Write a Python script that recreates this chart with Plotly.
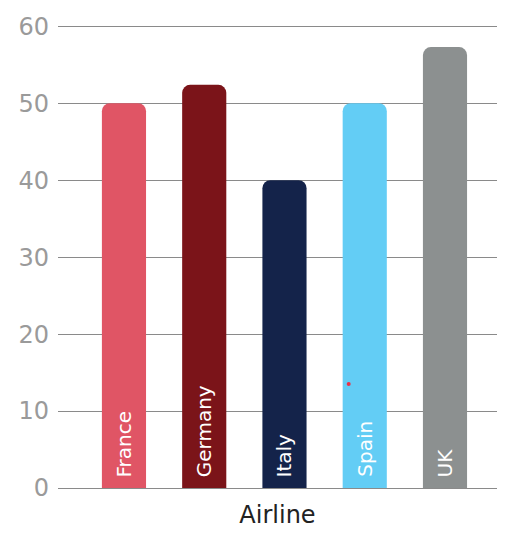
import plotly.graph_objects as go

# Share of respondents by airline country
airlines = ["France", "Germany", "Italy", "Spain", "UK"]
values = [50, 52.4, 40, 50, 57.3]
colors = ["#E05565", "#7B1419", "#14234A", "#63CDF5", "#8C9090"]
y_ticks = [0, 10, 20, 30, 40, 50, 60]

# stray marker point
dot_x = [2.8]
dot_y = [13.5]

positions = list(range(len(airlines)))
FONT = "DejaVu Sans"

fig = go.Figure()
fig.add_trace(go.Bar(
    x=positions,
    y=values,
    width=0.55,
    marker=dict(color=colors, cornerradius=8, line=dict(width=0)),
    hoverinfo="skip",
))
fig.add_trace(go.Scatter(
    x=dot_x, y=dot_y, mode="markers",
    marker=dict(color="#E8334A", size=4),
    hoverinfo="skip",
))

# country names written upward from the foot of each bar
for pos, name in zip(positions, airlines):
    fig.add_annotation(
        x=pos, y=0, text=name, textangle=-90,
        showarrow=False, xanchor="center", yanchor="bottom",
        yshift=9,
        font=dict(color="white", size=20, family=FONT),
    )

fig.update_layout(
    width=517, height=534,
    margin=dict(l=58, r=20, t=24, b=46),
    paper_bgcolor="white",
    plot_bgcolor="white",
    showlegend=False,
    font=dict(family=FONT),
    xaxis=dict(
        range=[-0.822, 4.648],
        showticklabels=False,
        showgrid=False,
        zeroline=False,
        title=dict(text="Airline", font=dict(size=24, color="#222222"), standoff=18),
    ),
    yaxis=dict(
        range=[0, 60.3],
        tickvals=y_ticks,
        showgrid=True,
        gridcolor="#8a8a8a",
        gridwidth=1,
        zeroline=True,
        zerolinecolor="#8a8a8a",
        zerolinewidth=1,
        tickfont=dict(size=24, color="#9a9a9a"),
        ticklabelstandoff=8,
    ),
)

fig.write_html("out.html")
